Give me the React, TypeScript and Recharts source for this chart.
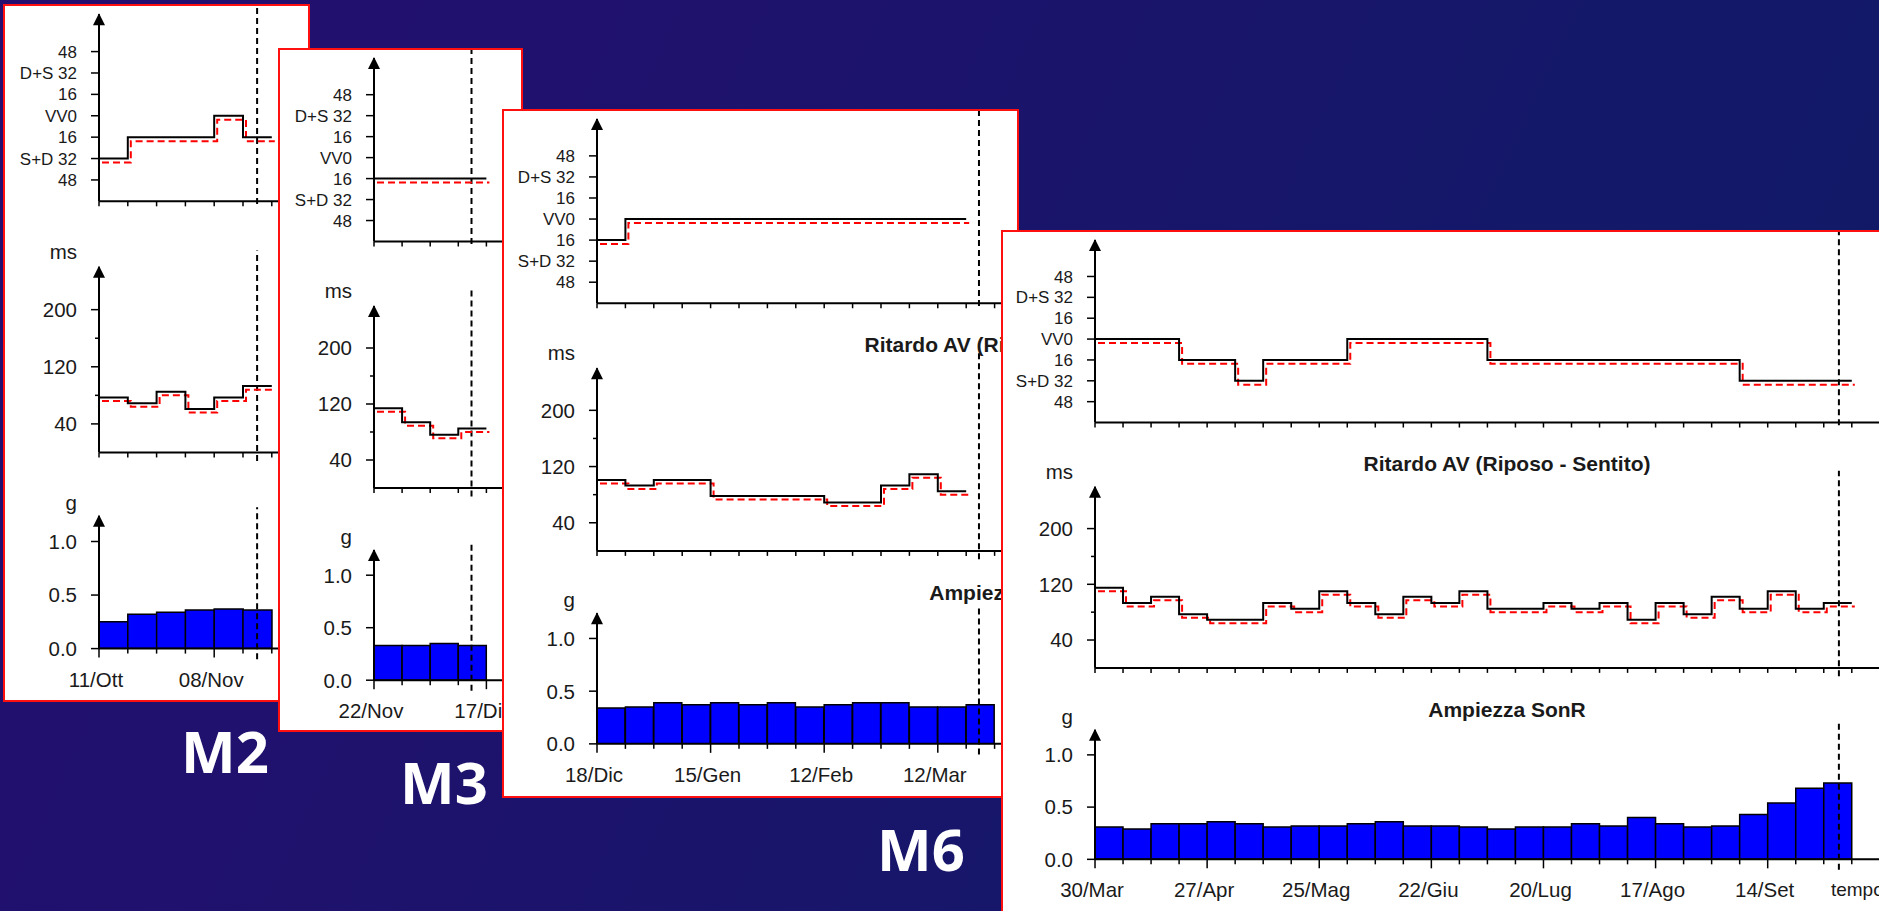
import React from "react";
import { ComposedChart, Line, Bar, XAxis, YAxis, ReferenceLine, ReferenceDot } from "recharts";

// ─── Axis ticks & labels ─────────────────────────────────────────────────────
const vvTicks = [-48, -32, -16, 0, 16, 32, 48];
const vvTickLabels = ["48", "S+D 32", "16", "VV0", "16", "D+S 32", "48"];
const avTicks = [40, 80, 120, 160, 200];
const avTickLabels = ["40", "", "120", "", "200"];
const ampTicks = [0, 0.5, 1];
const ampTickLabels = ["0.0", "0.5", "1.0"];

// ─── M2 ──────────────────────────────────────────────────────────────────────
const m2Dates = ["11/Ott", "08/Nov"];
const m2Vv = [-32, -16, -16, -16, 0, -16];
const m2VvRed = [-35, -19, -19, -19, -3, -19];
const m2Av = [77, 69, 85, 61, 77, 93];
const m2AvRed = [72, 64, 80, 56, 72, 88];
const m2Amp = [0.25, 0.32, 0.34, 0.36, 0.37, 0.36];

// ─── M3 ──────────────────────────────────────────────────────────────────────
const m3Dates = ["22/Nov", "17/Dic"];
const m3Vv = [-16, -16, -16, -16];
const m3VvRed = [-19, -19, -19, -19];
const m3Av = [114, 94, 76, 85];
const m3AvRed = [109, 89, 71, 80];
const m3Amp = [0.33, 0.33, 0.35, 0.33];

// ─── M6 ──────────────────────────────────────────────────────────────────────
const m6Dates = ["18/Dic", "15/Gen", "12/Feb", "12/Mar"];
const m6Vv = [-16, 0, 0, 0, 0, 0, 0, 0, 0, 0, 0, 0, 0];
const m6VvRed = [-19, -3, -3, -3, -3, -3, -3, -3, -3, -3, -3, -3, -3];
const m6Av = [101, 93, 101, 101, 78, 78, 78, 78, 69, 69, 93, 109, 85];
const m6AvRed = [96, 88, 96, 96, 73, 73, 73, 73, 64, 64, 88, 104, 80];
const m6Amp = [0.34, 0.35, 0.39, 0.37, 0.39, 0.37, 0.39, 0.35, 0.37, 0.39, 0.39, 0.35, 0.35, 0.37];

// ─── M12 ─────────────────────────────────────────────────────────────────────
const m12Dates = ["30/Mar", "27/Apr", "25/Mag", "22/Giu", "20/Lug", "17/Ago", "14/Set"];
const m12Vv = [0, 0, 0, -16, -16, -32, -16, -16, -16, 0, 0, 0, 0, 0, -16, -16, -16, -16, -16, -16, -16, -16, -16, -32, -32, -32, -32];
const m12VvRed = [-3, -3, -3, -19, -19, -35, -19, -19, -19, -3, -3, -3, -3, -3, -19, -19, -19, -19, -19, -19, -19, -19, -19, -35, -35, -35, -35];
const m12Av = [115, 93, 102, 77, 69, 69, 93, 85, 110, 93, 77, 102, 93, 110, 85, 85, 93, 85, 93, 69, 93, 77, 102, 85, 110, 85, 93];
const m12AvRed = [110, 88, 97, 72, 64, 64, 88, 80, 105, 88, 72, 97, 88, 105, 80, 80, 88, 80, 88, 64, 88, 72, 97, 80, 105, 80, 88];
const m12Amp = [0.31, 0.29, 0.34, 0.34, 0.36, 0.34, 0.31, 0.32, 0.32, 0.34, 0.36, 0.32, 0.32, 0.31, 0.29, 0.31, 0.31, 0.34, 0.32, 0.4, 0.34, 0.31, 0.32, 0.43, 0.54, 0.68, 0.73];

const titleAv = "Ritardo AV (Riposo - Sentito)";
const titleAmp = "Ampiezza SonR";

const FONT = '"Liberation Sans", Arial, sans-serif';
const axisStyle = { stroke: "#000", strokeWidth: 2 };

// M2 and M3 titles sit completely under the next panel, so they are left out
const panels = [
  { name: "M2", left: 3, top: 4, width: 307, height: 698, ax: 94, week: 28.8, sy: 1.02, span: 7, today: 5.49, dates: m2Dates, vv: m2Vv, vvRed: m2VvRed, av: m2Av, avRed: m2AvRed, amp: m2Amp, titles: false, tempo: false },
  { name: "M3", left: 278, top: 48, width: 245, height: 684, ax: 94, week: 28.1, sy: 1, span: 6, today: 3.47, dates: m3Dates, vv: m3Vv, vvRed: m3VvRed, av: m3Av, avRed: m3AvRed, amp: m3Amp, titles: false, tempo: false },
  { name: "M6", left: 502, top: 109, width: 517, height: 689, ax: 93, week: 28.4, sy: 1.004, span: 16, today: 13.45, dates: m6Dates, vv: m6Vv, vvRed: m6VvRed, av: m6Av, avRed: m6AvRed, amp: m6Amp, titles: true, tempo: false },
  { name: "M12", left: 1001, top: 230, width: 900, height: 700, ax: 92, week: 28.03, sy: 0.995, span: 29, today: 26.54, dates: m12Dates, vv: m12Vv, vvRed: m12VvRed, av: m12Av, avRed: m12AvRed, amp: m12Amp, titles: true, tempo: true },
];

const labels = [
  { text: "M2", left: 181, top: 722 },
  { text: "M3", left: 400, top: 753 },
  { text: "M6", left: 877, top: 820 },
];

// ─── Ticks & shapes ──────────────────────────────────────────────────────────
function YTick(props: any) {
  const { x, y, payload, ticks, names, size } = props;
  const i = ticks.indexOf(payload.value);
  const label = i >= 0 ? names[i] : "";
  return (
    <g>
      <line x1={x - (label ? 8 : 4)} x2={x} y1={y} y2={y} stroke="#000" strokeWidth={1.5} />
      {label ? (
        <text x={x - 22} y={y} dy={size * 0.36} textAnchor="end" fontSize={size} fill="#1a1a1a">
          {label}
        </text>
      ) : null}
    </g>
  );
}

function XTick(props: any) {
  const { x, y, payload, dates, sy } = props;
  const v = payload.value;
  const label = dates && v % 4 === 0 ? dates[v / 4] : undefined;
  return (
    <g>
      <line x1={x} x2={x} y1={y} y2={y + (label ? 9 : 5)} stroke="#000" strokeWidth={1.5} />
      {label ? (
        <text x={x - 3} y={y + 38 * sy} textAnchor="middle" fontSize={20.5} fill="#1a1a1a">
          {label}
        </text>
      ) : null}
    </g>
  );
}

const arrowShape = (p: any) => (
  <path d={`M${p.cx},${p.cy - 1}L${p.cx - 6},${p.cy + 11}L${p.cx + 6},${p.cy + 11}Z`} fill="#000" />
);

const lineProps = { type: "stepAfter" as const, dot: false, activeDot: false, isAnimationActive: false, strokeWidth: 2 };

// ─── Panel ───────────────────────────────────────────────────────────────────
function Panel({ p, z }: { p: (typeof panels)[number]; z: number }) {
  const { sy, week, span, ax, today } = p;
  const cw = ax + span * week + 10;
  const xTicks = Array.from({ length: span + 1 }, (_, i) => i);
  const n = p.vv.length;
  const lineRows = Array.from({ length: n + 1 }, (_, i) => {
    const k = Math.min(i, n - 1);
    return { w: i, vv: p.vv[k], vvRed: p.vvRed[k], av: p.av[k], avRed: p.avRed[k] };
  });
  const barRows = Array.from({ length: span }, (_, i) => ({ w: i, amp: i < p.amp.length ? p.amp[i] : null }));
  const shift = 3 / week;

  const xAxisCommon = {
    type: "number" as const,
    dataKey: "w",
    domain: [0, span],
    ticks: xTicks,
    interval: 0,
    allowDataOverflow: true,
    tickLine: false,
    tickSize: 0,
    tickMargin: 0,
    axisLine: axisStyle,
  };
  const yAxisCommon = {
    type: "number" as const,
    interval: 0,
    allowDataOverflow: true,
    width: ax,
    tickLine: false,
    tickSize: 0,
    tickMargin: 0,
    axisLine: axisStyle,
  };
  const todayLine = (y1: number, y2: number) => (
    <ReferenceLine
      segment={[{ x: today, y: y1 }, { x: today, y: y2 }]}
      stroke="#000"
      strokeWidth={2}
      strokeDasharray="6 4"
      ifOverflow="visible"
    />
  );

  return (
    <div
      style={{
        position: "absolute",
        left: p.left,
        top: p.top,
        width: p.width,
        height: p.height,
        boxSizing: "border-box",
        border: "2px solid #ff1010",
        background: "#fff",
        overflow: "hidden",
        zIndex: z,
        fontFamily: FONT,
        color: "#1a1a1a",
      }}
    >
      {/* VV chart */}
      <div style={{ position: "absolute", left: 0, top: 0 }}>
        <ComposedChart width={cw} height={205 * sy} data={lineRows} margin={{ top: 8 * sy, right: 10, bottom: 0, left: 0 }}>
          <XAxis {...xAxisCommon} height={13.5 * sy} tick={<XTick sy={sy} />} />
          <XAxis xAxisId="red" type="number" dataKey="w" domain={[-shift, span - shift]} hide allowDataOverflow />
          <YAxis {...yAxisCommon} domain={[-64, 76]} ticks={vvTicks} tick={<YTick ticks={vvTicks} names={vvTickLabels} size={17} />} />
          {todayLine(-66, 84)}
          <ReferenceDot x={0} y={76} ifOverflow="visible" shape={arrowShape} />
          <Line {...lineProps} xAxisId="red" dataKey="vvRed" stroke="#ff0000" strokeDasharray="7 4" />
          <Line {...lineProps} dataKey="vv" stroke="#000" />
        </ComposedChart>
      </div>

      {/* AV delay chart */}
      <div style={{ position: "absolute", left: 0, top: 215 * sy }}>
        <ComposedChart width={cw} height={243 * sy} data={lineRows} margin={{ top: 41 * sy, right: 10, bottom: 0, left: 0 }}>
          <XAxis {...xAxisCommon} height={20 * sy} tick={<XTick sy={sy} />} />
          <XAxis xAxisId="red" type="number" dataKey="w" domain={[-shift, span - shift]} hide allowDataOverflow />
          <YAxis {...yAxisCommon} domain={[0, 260]} ticks={avTicks} tick={<YTick ticks={avTicks} names={avTickLabels} size={20.5} />} />
          {todayLine(-12, 283)}
          <ReferenceDot x={0} y={260} ifOverflow="visible" shape={arrowShape} />
          <Line {...lineProps} xAxisId="red" dataKey="avRed" stroke="#ff0000" strokeDasharray="7 4" />
          <Line {...lineProps} dataKey="av" stroke="#000" />
        </ComposedChart>
      </div>

      {/* Amplitude chart */}
      <div style={{ position: "absolute", left: 0, top: 460 * sy }}>
        <ComposedChart
          width={cw}
          height={222 * sy}
          data={barRows}
          margin={{ top: 40 * sy, right: 10, bottom: 0, left: 0 }}
          barCategoryGap={0}
          barGap={0}
        >
          <XAxis xAxisId="cat" type="category" dataKey="w" hide />
          <XAxis {...xAxisCommon} height={51.8 * sy} tick={<XTick sy={sy} dates={p.dates} />} />
          <YAxis {...yAxisCommon} domain={[0, 1.24]} ticks={ampTicks} tick={<YTick ticks={ampTicks} names={ampTickLabels} size={20.5} />} />
          <Bar xAxisId="cat" dataKey="amp" fill="#0000ff" stroke="#000" strokeWidth={1.5} isAnimationActive={false} />
          {todayLine(-0.1, 1.32)}
          <ReferenceDot x={0} y={1.24} ifOverflow="visible" shape={arrowShape} />
        </ComposedChart>
      </div>

      {/* unit labels */}
      <div style={{ position: "absolute", left: 0, width: ax - 22, textAlign: "right", top: 243 * sy - 13, fontSize: 20.5, lineHeight: "22px" }}>ms</div>
      <div style={{ position: "absolute", left: 0, width: ax - 22, textAlign: "right", top: 491 * sy - 15, fontSize: 20.5, lineHeight: "22px" }}>g</div>

      {/* titles */}
      {p.titles ? (
        <>
          <div style={{ position: "absolute", left: 304, width: 400, textAlign: "center", top: 234 * sy - 12, fontSize: 21, lineHeight: "22px", fontWeight: 700 }}>{titleAv}</div>
          <div style={{ position: "absolute", left: 304, width: 400, textAlign: "center", top: 482 * sy - 13, fontSize: 21, lineHeight: "22px", fontWeight: 700 }}>{titleAmp}</div>
        </>
      ) : null}

      {p.tempo ? (
        <div style={{ position: "absolute", left: ax + today * week - 8, top: 650 * sy, fontSize: 19, lineHeight: "22px" }}>tempo</div>
      ) : null}
    </div>
  );
}

export default function App() {
  return (
    <div
      style={{
        position: "fixed",
        left: 0,
        top: 0,
        width: 1879,
        height: 911,
        overflow: "hidden",
        background: "linear-gradient(115deg, #250e70 0%, #1c136c 40%, #141869 70%, #101b66 100%)",
      }}
    >
      {panels.map((p, i) => (
        <Panel key={p.name} p={p} z={i + 1} />
      ))}
      {labels.map((l) => (
        <div
          key={l.text}
          style={{
            position: "absolute",
            left: l.left,
            top: l.top,
            fontFamily: '"Open Sans", sans-serif',
            fontWeight: 700,
            fontSize: 58,
            lineHeight: 1,
            color: "#fff",
            zIndex: 10,
          }}
        >
          {l.text}
        </div>
      ))}
    </div>
  );
}
